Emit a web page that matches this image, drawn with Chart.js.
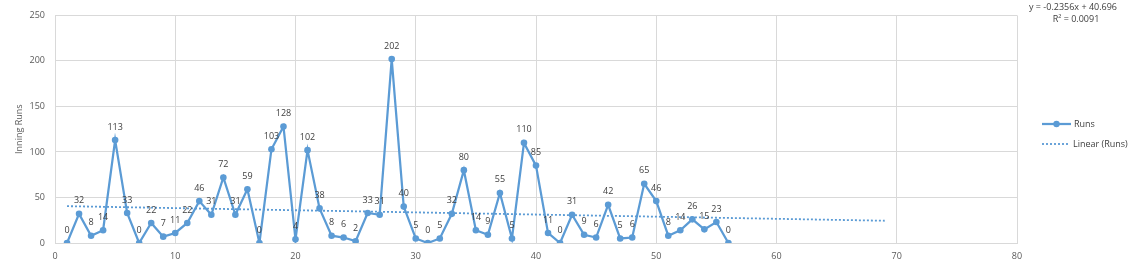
<!DOCTYPE html>
<html>
<head>
<meta charset="utf-8">
<script src="https://cdn.jsdelivr.net/npm/chart.js@4"></script>
<style>
  html, body { margin: 0; padding: 0; background: #fff; }
  #wrap { width: 1135px; height: 266px; }
</style>
</head>
<body>
<div id="wrap"><canvas id="chart" width="1135" height="266"></canvas></div>
<script>
// innings and runs scored
const innings = [1,2,3,4,5,6,7,8,9,10,11,12,13,14,15,16,17,18,19,20,21,22,23,24,25,26,27,28,
                 29,30,31,32,33,34,35,36,37,38,39,40,41,42,43,44,45,46,47,48,49,50,51,52,53,54,55,56];
const runs = [0,32,8,14,113,33,0,22,7,11,22,46,31,72,31,59,0,103,128,4,102,38,8,6,2,33,31,202,
              40,5,0,5,32,80,14,9,55,5,110,85,11,0,31,9,6,42,5,6,65,46,8,14,26,15,23,0];

// linear trendline as printed on the chart
const trendSlope = -0.2356;
const trendIntercept = 40.696;
const trendRange = [1, 69];
const equationText = 'y = -0.2356x + 40.696';
const r2Text = 'R² = 0.0091';

const xTicks = [0, 10, 20, 30, 40, 50, 60, 70, 80];
const yTicks = [0, 50, 100, 150, 200, 250];

const blue = '#5B9BD5';
const font = "'Open Sans', 'Liberation Sans', sans-serif";

const runsPoints = innings.map((x, i) => ({ x, y: runs[i] }));
const trendPoints = trendRange.map(x => ({ x, y: trendSlope * x + trendIntercept }));

// data labels above each point
const labelPlugin = {
  id: 'labels',
  afterDatasetsDraw(chart) {
    const ctx = chart.ctx;
    const meta = chart.getDatasetMeta(0);
    ctx.save();
    ctx.font = '9px ' + font;
    ctx.fillStyle = '#404040';
    ctx.textAlign = 'center';
    ctx.textBaseline = 'middle';
    meta.data.forEach((pt, i) => {
      ctx.fillText(String(runs[i]), pt.x, pt.y - 13);
    });
    ctx.restore();
  }
};

// equation text and legend on the right side
const sidePlugin = {
  id: 'side',
  afterDraw(chart) {
    const ctx = chart.ctx;
    ctx.save();
    ctx.font = '9px ' + font;
    ctx.fillStyle = '#404040';
    ctx.textAlign = 'center';
    ctx.textBaseline = 'middle';
    ctx.fillText(equationText, 1073, 7);
    ctx.fillText(r2Text, 1076, 19);

    // legend: Runs
    ctx.strokeStyle = blue;
    ctx.lineWidth = 2.25;
    ctx.beginPath();
    ctx.moveTo(1042, 124);
    ctx.lineTo(1071, 124);
    ctx.stroke();
    ctx.fillStyle = blue;
    ctx.beginPath();
    ctx.arc(1056.5, 124, 3.2, 0, Math.PI * 2);
    ctx.fill();
    // legend: Linear (Runs)
    ctx.lineWidth = 1.8;
    ctx.setLineDash([2, 2]);
    ctx.beginPath();
    ctx.moveTo(1042, 144);
    ctx.lineTo(1068, 144);
    ctx.stroke();
    ctx.setLineDash([]);

    ctx.fillStyle = '#404040';
    ctx.textAlign = 'left';
    ctx.fillText('Runs', 1074, 124);
    ctx.fillText('Linear (Runs)', 1073, 144);
    ctx.restore();
  }
};

new Chart(document.getElementById('chart'), {
  type: 'scatter',
  data: {
    datasets: [
      {
        label: 'Runs',
        data: runsPoints,
        showLine: true,
        borderColor: blue,
        backgroundColor: blue,
        borderWidth: 2.25,
        pointRadius: 3.3,
        pointHoverRadius: 3.3,
        pointBorderWidth: 0,
        tension: 0
      },
      {
        label: 'Linear (Runs)',
        data: trendPoints,
        showLine: true,
        borderColor: blue,
        borderWidth: 1.8,
        borderDash: [2, 2],
        pointRadius: 0
      }
    ]
  },
  options: {
    responsive: false,
    animation: false,
    layout: { padding: { left: 0, right: 118, top: 11, bottom: 0 } },
    plugins: {
      legend: { display: false },
      tooltip: { enabled: false }
    },
    scales: {
      x: {
        type: 'linear',
        min: 0,
        max: 80,
        afterBuildTicks: s => { s.ticks = xTicks.map(v => ({ value: v })); },
        afterFit: s => { s.height = 23; },
        grid: { color: '#D9D9D9', drawTicks: false },
        border: { color: '#D9D9D9' },
        ticks: { color: '#595959', font: { family: font, size: 9 }, padding: 8 }
      },
      y: {
        type: 'linear',
        min: 0,
        max: 250,
        afterBuildTicks: s => { s.ticks = yTicks.map(v => ({ value: v })); },
        afterFit: s => { s.width = 55; },
        grid: { color: '#D9D9D9', drawTicks: false },
        border: { color: '#D9D9D9' },
        ticks: { color: '#595959', font: { family: font, size: 9 }, padding: 10 },
        title: {
          display: true,
          text: 'Inning Runs',
          color: '#595959',
          font: { family: font, size: 9 },
          padding: { top: 14, bottom: 0 }
        }
      }
    }
  },
  plugins: [labelPlugin, sidePlugin]
});
</script>
</body>
</html>
